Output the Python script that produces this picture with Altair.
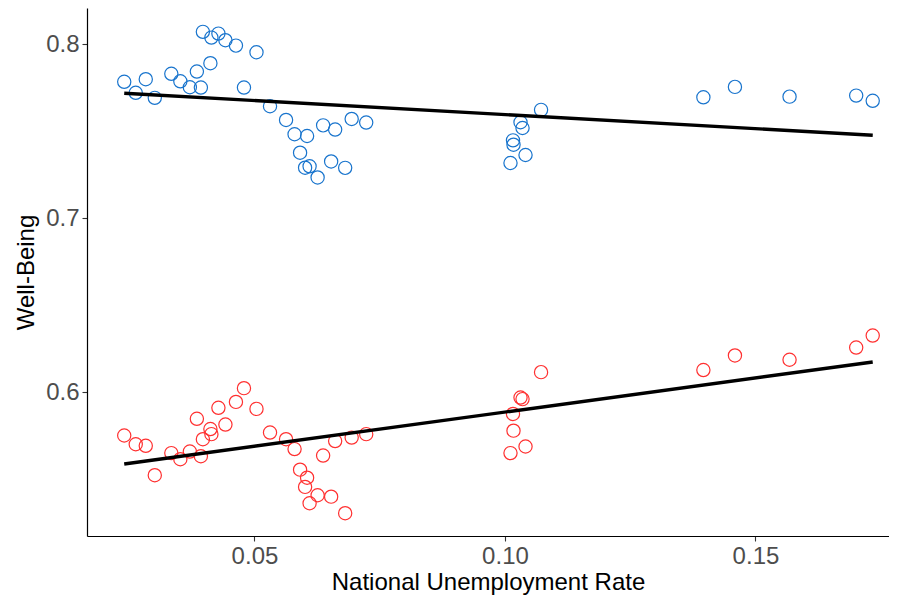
import altair as alt
import pandas as pd

# National unemployment rate (shared x for both series)
unemployment = [
    0.0240, 0.0263, 0.0283, 0.0301, 0.0334, 0.0352, 0.0371, 0.0385, 0.0393, 0.0397,
    0.0412, 0.0414, 0.0428, 0.0442, 0.0463, 0.0479, 0.0504, 0.0531, 0.0563, 0.0580,
    0.0591, 0.0601, 0.0605, 0.0610, 0.0626, 0.0637, 0.0653, 0.0661, 0.0681, 0.0694,
    0.0723, 0.1011, 0.1016, 0.1017, 0.1031, 0.1035, 0.1041, 0.1072, 0.1396, 0.1459,
    0.1568, 0.1701, 0.1734,
]

# Upper (blue) series of well-being
wellbeing_blue = [
    0.7783, 0.7720, 0.7798, 0.7691, 0.7829, 0.7786, 0.7752, 0.7842, 0.7750, 0.8070,
    0.7890, 0.8037, 0.8060, 0.8022, 0.7991, 0.7750, 0.7953, 0.7643, 0.7564, 0.7482,
    0.7376, 0.7290, 0.7472, 0.7298, 0.7234, 0.7533, 0.7326, 0.7509, 0.7289, 0.7570,
    0.7549, 0.7317, 0.7447, 0.7422, 0.7551, 0.7518, 0.7363, 0.7622, 0.7694, 0.7754,
    0.7698, 0.7704, 0.7674,
]

# Lower (red) series of well-being
wellbeing_red = [
    0.5752, 0.5702, 0.5693, 0.5524, 0.5651, 0.5616, 0.5660, 0.5848, 0.5633, 0.5731,
    0.5789, 0.5760, 0.5911, 0.5815, 0.5945, 0.6024, 0.5905, 0.5769, 0.5731, 0.5674,
    0.5556, 0.5457, 0.5510, 0.5363, 0.5409, 0.5637, 0.5401, 0.5720, 0.5306, 0.5740,
    0.5760, 0.5651, 0.5876, 0.5780, 0.5970, 0.5961, 0.5689, 0.6116, 0.6128, 0.6212,
    0.6187, 0.6257, 0.6326,
]

series_names = ["blue", "red"]
series_colors = ["#1874CD", "#FF3030"]

rows = []
for x, yb, yr in zip(unemployment, wellbeing_blue, wellbeing_red):
    rows.append({"rate": x, "wb": yb, "series": "blue"})
    rows.append({"rate": x, "wb": yr, "series": "red"})
df = pd.DataFrame(rows)

x_enc = alt.X(
    "rate:Q",
    title="National Unemployment Rate",
    scale=alt.Scale(domain=[0.01657, 0.17665], nice=False, zero=False),
    axis=alt.Axis(values=[0.05, 0.10, 0.15], format=".2f"),
)
y_enc = alt.Y(
    "wb:Q",
    title="Well-Being",
    scale=alt.Scale(domain=[0.5175, 0.8207], nice=False, zero=False),
    axis=alt.Axis(values=[0.6, 0.7, 0.8], format=".1f"),
)

points = alt.Chart(df).mark_point(
    shape="circle", filled=False, size=175, strokeWidth=1.2, opacity=1, clip=False
).encode(
    x=x_enc,
    y=y_enc,
    color=alt.Color("series:N", scale=alt.Scale(domain=series_names, range=series_colors), legend=None),
)

lines = alt.Chart(df).transform_regression(
    "rate", "wb", groupby=["series"]
).mark_line(color="black", strokeWidth=3.4).encode(
    x=alt.X("rate:Q"),
    y=alt.Y("wb:Q"),
    detail="series:N",
)

chart = alt.layer(points, lines).properties(
    width=802,
    height=528,
    autosize=alt.AutoSizeParams(type="none"),
    padding={"left": 79, "top": 0, "right": 0, "bottom": 59},
).configure_view(
    stroke=None
).configure_axis(
    grid=False,
    domainColor="black",
    domainWidth=1.2,
    tickColor="#333333",
    tickWidth=1.1,
    tickSize=5,
    labelColor="#4D4D4D",
    labelFont="Liberation Sans",
    labelFontSize=24,
    titleFont="Liberation Sans",
    titleFontSize=24,
    titleFontWeight="normal",
    titleColor="black",
    labelPadding=3,
).configure_axisX(
    titlePadding=2,
).configure_axisY(
    titlePadding=7,
)

chart.save("out.html", embed_options={"renderer": "svg", "actions": False})
